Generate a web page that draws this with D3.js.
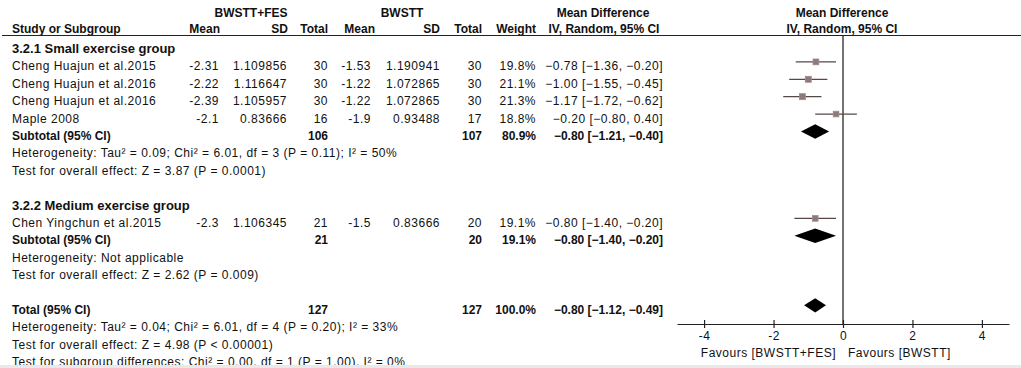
<!DOCTYPE html>
<html>
<head>
<meta charset="utf-8">
<script src="https://cdn.jsdelivr.net/npm/d3@7"></script>
<style>
  body { margin: 0; background: #fff; }
  svg { display: block; }
  text { font-family: "Liberation Sans", Arial, sans-serif; font-size: 12px; fill: #111; }
  .b { font-weight: bold; }
  .g { font-weight: bold; font-size: 13px; }
  .r { letter-spacing: 0.5px; }
</style>
</head>
<body>
<div id="plot"></div>
<script>
// study level data
var studies = ["Cheng Huajun et al.2015", "Cheng Huajun et al.2016", "Cheng Huajun et al.2016", "Maple 2008", "Chen Yingchun et al.2015"];
var studyGroup = [0, 0, 0, 0, 1];
var expMean = [-2.31, -2.22, -2.39, -2.1, -2.3];
var expSD = [1.109856, 1.116647, 1.105957, 0.83666, 1.106345];
var expN = [30, 30, 30, 16, 21];
var ctlMean = [-1.53, -1.22, -1.22, -1.9, -1.5];
var ctlSD = [1.190941, 1.072865, 1.072865, 0.93488, 0.83666];
var ctlN = [30, 30, 30, 17, 20];
var weight = [19.8, 21.1, 21.3, 18.8, 19.1];
var md = [-0.78, -1.00, -1.17, -0.20, -0.80];
var lo = [-1.36, -1.55, -1.72, -0.80, -1.40];
var hi = [-0.20, -0.45, -0.62, 0.40, -0.20];

// subgroups
var groups = ["3.2.1 Small exercise group", "3.2.2 Medium exercise group"];
var subExpN = [106, 21];
var subCtlN = [107, 20];
var subWeight = [80.9, 19.1];
var subMd = [-0.80, -0.80];
var subLo = [-1.21, -1.40];
var subHi = [-0.40, -0.20];
var subHet = ["Heterogeneity: Tau\u00b2 = 0.09; Chi\u00b2 = 6.01, df = 3 (P = 0.11); I\u00b2 = 50%", "Heterogeneity: Not applicable"];
var subTest = ["Test for overall effect: Z = 3.87 (P = 0.0001)", "Test for overall effect: Z = 2.62 (P = 0.009)"];

// overall
var totExpN = 127, totCtlN = 127, totWeight = 100.0;
var totMd = -0.80, totLo = -1.12, totHi = -0.49;
var totNotes = ["Heterogeneity: Tau\u00b2 = 0.04; Chi\u00b2 = 6.01, df = 4 (P = 0.20); I\u00b2 = 33%",
  "Test for overall effect: Z = 4.98 (P < 0.00001)",
  "Test for subgroup differences: Chi\u00b2 = 0.00, df = 1 (P = 1.00), I\u00b2 = 0%"];

var ticks = [-4, -2, 0, 2, 4];
var favours = ["Favours [BWSTT+FES]", "Favours [BWSTT]"];

var width = 1021, height = 368;

var svg = d3.select("#plot")
  .append("svg")
  .attr("width", width)
  .attr("height", height);

var f2 = d3.format(".2f"), f1 = d3.format(".1f");
function ci(m, l, h) { return f2(m) + " [" + f2(l) + ", " + f2(h) + "]"; }

// build the list of rows
var rows = [];
var r = 0;
groups.forEach(function (g, gi) {
  rows.push({ row: r++, type: "group", label: g });
  studies.forEach(function (s, i) {
    if (studyGroup[i] != gi) return;
    rows.push({ row: r++, type: "study", label: s, i: i });
  });
  rows.push({ row: r++, type: "sub", label: "Subtotal (95% CI)", g: gi });
  rows.push({ row: r++, type: "note", label: subHet[gi] });
  rows.push({ row: r++, type: "note", label: subTest[gi] });
  r++;
});
rows.push({ row: r++, type: "total", label: "Total (95% CI)" });
totNotes.forEach(function (n) { rows.push({ row: r++, type: "note", label: n }); });

// scales
var y = d3.scaleLinear().domain([0, 18]).range([53, 366]);
var x = d3.scaleLinear().domain([-4.78, 4.78]).range([677, 1009]);
var axisY = 324;

var col = { study: 12, eMean: 219, eSD: 287, eN: 328, cMean: 371, cSD: 440, cN: 482, w: 536, ci: 663 };

function txt(xp, yp, s, anchor, cls) {
  svg.append("text")
    .attr("x", xp).attr("y", yp)
    .attr("text-anchor", anchor || "start")
    .attr("class", cls || "r")
    .text(s);
}

// headers
txt(251, 17, "BWSTT+FES", "middle", "b");
txt(402, 17, "BWSTT", "middle", "b");
txt(603, 17, "Mean Difference", "middle", "b");
txt(842, 17, "Mean Difference", "middle", "b");
txt(col.study, 33, "Study or Subgroup", "start", "b");
txt(220, 33, "Mean", "end", "b");
txt(col.eSD + 1, 33, "SD", "end", "b");
txt(col.eN, 33, "Total", "end", "b");
txt(375, 33, "Mean", "end", "b");
txt(col.cSD, 33, "SD", "end", "b");
txt(col.cN, 33, "Total", "end", "b");
txt(col.w, 33, "Weight", "end", "b");
txt(604, 33, "IV, Random, 95% CI", "middle", "b");
txt(842, 33, "IV, Random, 95% CI", "middle", "b");

svg.append("line")
  .attr("x1", 2).attr("x2", 1021)
  .attr("y1", 35.5).attr("y2", 35.5)
  .attr("stroke", "#222").attr("stroke-width", 1);

// zero line
svg.append("line")
  .attr("x1", x(0)).attr("x2", x(0))
  .attr("y1", 36).attr("y2", axisY)
  .attr("stroke", "#444").attr("stroke-width", 1.5);

// table rows
rows.forEach(function (d) {
  var yy = y(d.row);
  var cy = yy - 8.5;
  if (d.type == "group") {
    txt(col.study, yy, d.label, "start", "g");
  } else if (d.type == "note") {
    txt(col.study, yy, d.label, "start");
  } else if (d.type == "study") {
    var i = d.i;
    txt(col.study, yy, d.label);
    txt(col.eMean, yy, String(expMean[i]), "end");
    txt(col.eSD, yy, String(expSD[i]), "end");
    txt(col.eN, yy, String(expN[i]), "end");
    txt(col.cMean, yy, String(ctlMean[i]), "end");
    txt(col.cSD, yy, String(ctlSD[i]), "end");
    txt(col.cN, yy, String(ctlN[i]), "end");
    txt(col.w, yy, f1(weight[i]) + "%", "end");
    txt(col.ci, yy, ci(md[i], lo[i], hi[i]), "end");

    svg.append("line")
      .attr("x1", x(lo[i])).attr("x2", x(hi[i]))
      .attr("y1", cy).attr("y2", cy)
      .attr("stroke", "#574848").attr("stroke-width", 1.2);
    var s = Math.sqrt(weight[i]) * 1.3;
    svg.append("rect")
      .attr("x", x(md[i]) - s / 2).attr("y", cy - s / 2)
      .attr("width", s).attr("height", s)
      .attr("fill", "#8a7a7a").attr("stroke", "#a48a8a").attr("stroke-width", 0.8);
  } else {
    var n1, n2, w, m, l, h;
    if (d.type == "sub") {
      n1 = subExpN[d.g]; n2 = subCtlN[d.g]; w = subWeight[d.g];
      m = subMd[d.g]; l = subLo[d.g]; h = subHi[d.g];
    } else {
      n1 = totExpN; n2 = totCtlN; w = totWeight; m = totMd; l = totLo; h = totHi;
    }
    txt(col.study, yy, d.label, "start", "b");
    txt(col.eN, yy, String(n1), "end", "b");
    txt(col.cN, yy, String(n2), "end", "b");
    txt(col.w, yy, f1(w) + "%", "end", "b");
    txt(col.ci, yy, ci(m, l, h), "end", "b");

    var hh = 7.2;
    svg.append("path")
      .attr("d", "M" + x(l) + "," + cy + "L" + x(m) + "," + (cy - hh) +
        "L" + x(h) + "," + cy + "L" + x(m) + "," + (cy + hh) + "Z")
      .attr("fill", "#000");
  }
});

// axis
var axis = svg.append("g")
  .attr("transform", "translate(0," + axisY + ")")
  .call(d3.axisBottom(x).tickValues(ticks).tickSizeOuter(0).tickSizeInner(4)
    .tickFormat(function (d) { return String(d); }));
axis.select(".domain").attr("stroke", "#222").attr("stroke-width", 1.2);
axis.selectAll(".tick line").attr("y1", -4).attr("y2", 4).attr("stroke", "#222").attr("stroke-width", 1.2);
axis.selectAll(".tick text")
  .attr("y", 16).attr("dy", 0)
  .attr("class", "r")
  .style("font-size", "12px")
  .style("font-family", "'Liberation Sans', Arial, sans-serif")
  .attr("fill", "#111");

txt(x(0) - 7, 357, favours[0], "end");
txt(x(0) + 5, 357, favours[1], "start");

// bottom strip
svg.append("rect")
  .attr("x", 0).attr("y", 365)
  .attr("width", width).attr("height", 3)
  .attr("fill", "#e9e9e9");
</script>
</body>
</html>
